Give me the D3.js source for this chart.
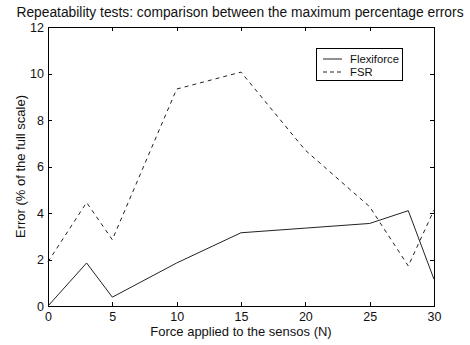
<!DOCTYPE html>
<html lang="en">
<head>
  <meta charset="UTF-8">
  <title>Repeatability tests</title>
  <style>
    body { margin: 0; background: #fff; }
    text { font-family: "Liberation Sans", Arial, sans-serif; fill: #111; }
  </style>
</head>
<body>
  <section class="plot"></section>

  <script src="https://cdn.jsdelivr.net/npm/d3@7/dist/d3.min.js"></script>
  <script>
    // Data
    const forces = [0, 3, 5, 10, 15, 20, 25, 28, 30];
    const flexiforce = [0, 1.85, 0.38, 1.85, 3.15, 3.35, 3.55, 4.1, 1.15];
    const fsr = [1.9, 4.45, 2.85, 9.33, 10.06, 6.7, 4.27, 1.72, 4.13];
    const xTicks = [0, 5, 10, 15, 20, 25, 30];
    const yTicks = [0, 2, 4, 6, 8, 10, 12];
    const seriesNames = ["Flexiforce", "FSR"];

    const W = 470, H = 345;
    const m = { left: 48, right: 36, top: 27, bottom: 39 };

    const svg = d3.select(".plot")
      .append("svg")
      .attr("width", W)
      .attr("height", H);

    const x = d3.scaleLinear().domain([0, 30]).range([m.left, W - m.right]);
    const y = d3.scaleLinear().domain([0, 12]).range([H - m.bottom, m.top]);

    // box
    svg.append("rect")
      .attr("x", x(0)).attr("y", y(12))
      .attr("width", x(30) - x(0)).attr("height", y(0) - y(12))
      .attr("fill", "none").attr("stroke", "#000").attr("shape-rendering", "crispEdges");

    // axes with inward ticks
    const tk = 4;
    const styleAxis = g => {
      g.select(".domain").remove();
      g.selectAll("line").attr("stroke", "#000").attr("shape-rendering", "crispEdges");
      g.selectAll("text").attr("font-size", "12.5px").attr("fill", "#111")
        .attr("font-family", '"Liberation Sans", Arial, sans-serif');
    };
    svg.append("g").attr("transform", `translate(0,${y(0)})`)
      .call(d3.axisBottom(x).tickValues(xTicks).tickSize(-tk).tickPadding(6))
      .call(styleAxis);
    svg.append("g").attr("transform", `translate(0,${y(12)})`)
      .call(d3.axisTop(x).tickValues(xTicks).tickSize(-tk).tickFormat(""))
      .call(styleAxis);
    svg.append("g").attr("transform", `translate(${x(0)},0)`)
      .call(d3.axisLeft(y).tickValues(yTicks).tickSize(-tk).tickPadding(4))
      .call(styleAxis);
    svg.append("g").attr("transform", `translate(${x(30)},0)`)
      .call(d3.axisRight(y).tickValues(yTicks).tickSize(-tk).tickFormat(""))
      .call(styleAxis);

    // lines
    const line = d3.line().x(d => x(d[0])).y(d => y(d[1]));
    svg.append("path")
      .datum(forces.map((f, i) => [f, flexiforce[i]]))
      .attr("d", line).attr("fill", "none").attr("stroke", "#222").attr("stroke-width", 1);
    svg.append("path")
      .datum(forces.map((f, i) => [f, fsr[i]]))
      .attr("d", line).attr("fill", "none").attr("stroke", "#222").attr("stroke-width", 1)
      .attr("stroke-dasharray", "4,4");

    // legend
    const lg = svg.append("g").attr("transform", "translate(316,48)");
    lg.append("rect").attr("width", 86).attr("height", 32)
      .attr("fill", "#fff").attr("stroke", "#000").attr("shape-rendering", "crispEdges");
    seriesNames.forEach((name, i) => {
      const yy = 11 + i * 13;
      lg.append("line").attr("x1", 7).attr("x2", 26).attr("y1", yy).attr("y2", yy)
        .attr("stroke", "#222").attr("stroke-dasharray", i ? "4,3" : null);
      lg.append("text").attr("x", 34).attr("y", yy + 4).attr("font-size", "11.3px").text(name);
    });

    // titles
    svg.append("text").attr("x", 240).attr("y", 17).attr("text-anchor", "middle")
      .attr("font-size", "13.8px").text("Repeatability tests: comparison between the maximum percentage errors");
    svg.append("text").attr("x", (x(0) + x(30)) / 2).attr("y", 336).attr("text-anchor", "middle")
      .attr("font-size", "13px").text("Force applied to the sensos (N)");
    svg.append("text").attr("transform", `translate(25,${(y(0) + y(12)) / 2}) rotate(-90)`)
      .attr("text-anchor", "middle").attr("font-size", "13px").text("Error (% of the full scale)");
  </script>
</body>
</html>
